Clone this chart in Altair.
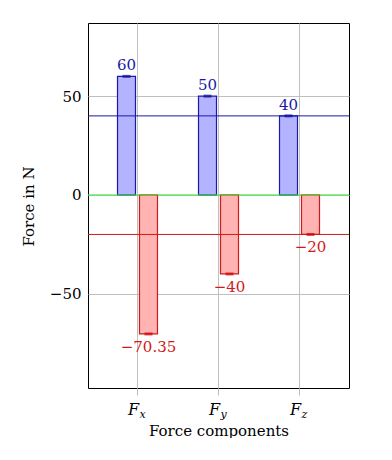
import altair as alt
import pandas as pd

components = ["Fx", "Fy", "Fz"]
subscripts = ["x", "y", "z"]
positive = [60, 50, 40]
negative = [-70.35, -40, -20]
ref_values = [40, -20, 0]
ref_colors = ["#1a1aa6", "#d01a1a", "#33ee33"]
y_ticks = [-50, 0, 50]

FONT = "DejaVu Serif"
BLUE_FILL, RED_FILL = "#b3b3ff", "#ffb3b3"
BLUE_LINE, RED_LINE = "#1a1aa6", "#d01a1a"
BLUE_CAP, RED_CAP = "#10109a", "#d00000"
GRID = "#bfbfbf"


def fmt(v):
    return f"{v:g}".replace("-", "\u2212")


rows = []
for c, p, n in zip(components, positive, negative):
    rows.append({"comp": c, "series": "a", "value": p, "label": fmt(p)})
    rows.append({"comp": c, "series": "b", "value": n, "label": fmt(n)})
df = pd.DataFrame(rows)
df_ref = pd.DataFrame({"v": ref_values, "c": ref_colors})
df_tick = pd.DataFrame({"comp": components, "sub": subscripts, "F": ["F"] * 3})

series_dom = ["a", "b"]

x_enc = alt.X(
    "comp:N",
    sort=components,
    scale=alt.Scale(domain=components, paddingInner=0, paddingOuter=0.111),
    axis=alt.Axis(
        labels=False,
        title="Force components",
        titleX=130.5,
        titleY=47,
        titleBaseline="alphabetic",
        tickSize=7,
        tickColor=GRID,
        grid=True,
        gridColor=GRID,
        domain=False,
        bandPosition=0.5,
    ),
)
xoff = alt.XOffset(
    "series:N",
    scale=alt.Scale(domain=series_dom, paddingInner=0.182, paddingOuter=0.932),
)
y_enc = alt.Y(
    "value:Q",
    scale=alt.Scale(domain=[-97.7, 87.0], nice=False, zero=False),
    axis=alt.Axis(
        values=y_ticks,
        title="Force in N",
        titleX=-55,
        titleY=183,
        titleBaseline="alphabetic",
        titleAngle=-90,
        tickSize=0,
        labelPadding=7,
        grid=True,
        gridColor=GRID,
        domain=False,
    ),
)

base = alt.Chart(df)

bars = base.mark_bar(strokeWidth=1.2).encode(
    x=x_enc,
    xOffset=xoff,
    y=y_enc,
    y2=alt.datum(0),
    color=alt.Color("series:N", scale=alt.Scale(domain=series_dom, range=[BLUE_FILL, RED_FILL]), legend=None),
    stroke=alt.Stroke("series:N", scale=alt.Scale(domain=series_dom, range=[BLUE_LINE, RED_LINE]), legend=None),
)

caps = base.mark_tick(thickness=3, size=8).encode(
    x=alt.X("comp:N", sort=components),
    xOffset="series:N",
    y="value:Q",
    color=alt.Color("series:N", scale=alt.Scale(domain=series_dom, range=[BLUE_CAP, RED_CAP]), legend=None),
)

rules = alt.Chart(df_ref).mark_rule(strokeWidth=1).encode(
    y="v:Q",
    color=alt.Color("c:N", scale=None, legend=None),
)

pos_labels = base.transform_filter("datum.value > 0").mark_text(
    font=FONT, fontSize=15, dy=-6, baseline="alphabetic", color=BLUE_LINE
).encode(x=alt.X("comp:N", sort=components), xOffset="series:N", y="value:Q", text="label:N")

neg_labels = base.transform_filter("datum.value < 0").mark_text(
    font=FONT, fontSize=15, dy=18, baseline="alphabetic", color=RED_LINE
).encode(x=alt.X("comp:N", sort=components), xOffset="series:N", y="value:Q", text="label:N")

tick_F = alt.Chart(df_tick).mark_text(
    font=FONT, fontSize=16, fontStyle="italic", baseline="alphabetic", dx=-4, color="black"
).encode(x=alt.X("comp:N", sort=components), y=alt.value(392), text="F:N")

tick_sub = alt.Chart(df_tick).mark_text(
    font=FONT, fontSize=11, fontStyle="italic", baseline="alphabetic", dx=5, color="black"
).encode(x=alt.X("comp:N", sort=components), y=alt.value(395), text="sub:N")

chart = (
    alt.layer(bars, rules, caps, pos_labels, neg_labels, tick_F, tick_sub)
    .resolve_scale(color="independent")
    .properties(
        width=261,
        height=365,
        autosize=alt.AutoSizeParams(type="none"),
        padding={"left": 80, "top": 15, "right": 20, "bottom": 50},
    )
    .configure_view(stroke="black", strokeWidth=1)
    .configure_axis(
        labelFont=FONT,
        labelFontSize=15,
        labelColor="black",
        titleFont=FONT,
        titleFontSize=15,
        titleFontWeight="normal",
        titleColor="black",
    )
)

chart.save("out.html", embed_options={"renderer": "svg", "actions": False})
